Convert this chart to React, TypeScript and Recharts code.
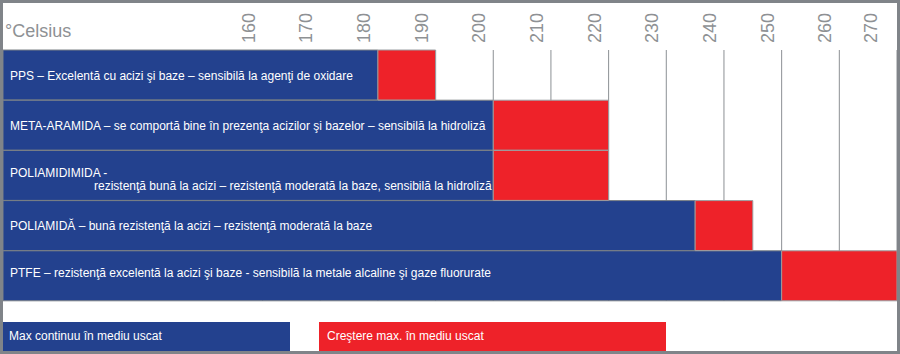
import React from 'react';
import { BarChart, Bar, XAxis, YAxis, CartesianGrid, LabelList, Legend } from 'recharts';

const materials = ['PPS', 'META-ARAMIDA', 'POLIAMIDIMIDA', 'POLIAMIDĂ', 'PTFE'];
const descriptions = [
  'PPS – Excelentă cu acizi şi baze – sensibilă la agenţi de oxidare',
  'META-ARAMIDA – se comportă bine în prezenţa acizilor şi bazelor – sensibilă la hidroliză',
  'POLIAMIDIMIDA -\nrezistenţă bună la acizi – rezistenţă moderată la baze, sensibilă la hidroliză',
  'POLIAMIDĂ – bună rezistenţă la acizi – rezistenţă moderată la baze',
  'PTFE – rezistenţă excelentă la acizi şi baze - sensibilă la metale alcaline şi gaze fluorurate',
];
const maxContinuous = [180, 200, 200, 235, 250];
const maxIncrease = [190, 220, 220, 245, 270];
const tickValues = [160, 170, 180, 190, 200, 210, 220, 230, 240, 250, 260, 270];
const axisUnit = '°Celsius';
const seriesNames = ['Max continuu în mediu uscat', 'Creştere max. în mediu uscat'];

const BLUE = '#23418e';
const RED = '#ee2229';
const FONT = '"Liberation Sans", Arial, sans-serif';
const labelNudge: Record<string, number> = { PTFE: -3 };

const data = materials.map((name, i) => ({
  name,
  desc: descriptions[i],
  cont: maxContinuous[i],
  inc: maxIncrease[i] - maxContinuous[i],
}));

const TickLabel = (props: any) => {
  const { x, payload } = props;
  const bx = x - 8;
  const by = 40;
  return (
    <text
      x={bx}
      y={by}
      transform={`rotate(-90 ${bx} ${by})`}
      textAnchor="start"
      fontSize={18}
      fill="#8e9194"
      fontFamily={FONT}
    >
      {payload.value}
    </text>
  );
};

const UnitLabel = () => (
  <text x={2} y={34} fontSize={18} fill="#8e9194" fontFamily={FONT}>
    {axisUnit}
  </text>
);

const BarText = (props: any) => {
  const { y, height, value } = props;
  const text = String(value);
  const lines = text.split('\n');
  const key = text.split(' ')[0];
  const nudge = labelNudge[key] || 0;
  const cy = y + height / 2 + nudge;
  if (lines.length === 1) {
    return (
      <text x={7} y={cy + 4.5} fontSize={12} fill="#ffffff" fontFamily={FONT}>
        {lines[0]}
      </text>
    );
  }
  return (
    <text fontSize={12} fill="#ffffff" fontFamily={FONT}>
      <tspan x={7} y={cy + 1.5}>{lines[0]}</tspan>
      <tspan x={91} y={cy + 15}>{lines[1]}</tspan>
    </text>
  );
};

const LegendContent = (props: any) => {
  const { payload } = props;
  const items = payload || [];
  const byKey: Record<string, any> = {};
  items.forEach((p: any) => { byKey[p.dataKey] = p; });
  const boxStyle = (left: number, width: number, color: string, pad: number): React.CSSProperties => ({
    position: 'absolute',
    left,
    top: 0,
    width,
    height: 29,
    background: color,
    color: '#fff',
    fontFamily: FONT,
    fontSize: 12,
    lineHeight: '29px',
    paddingLeft: pad,
    boxSizing: 'border-box',
    whiteSpace: 'nowrap',
  });
  return (
    <div style={{ position: 'relative', width: 894, height: 29 }}>
      <div style={boxStyle(0, 287, BLUE, 6)}>{byKey.cont ? byKey.cont.value : seriesNames[0]}</div>
      <div style={boxStyle(316, 347, RED, 8)}>{byKey.inc ? byKey.inc.value : seriesNames[1]}</div>
    </div>
  );
};

export default function App() {
  return (
    <div style={{ position: 'absolute', left: 0, top: 0, width: 900, height: 354, background: '#808489' }}>
      <div style={{ position: 'absolute', left: 3, top: 3, width: 894, height: 348, background: '#ffffff' }}>
        <BarChart
          width={894}
          height={348}
          data={data}
          layout="vertical"
          margin={{ top: 0, right: 0, bottom: 21, left: 0 }}
          barCategoryGap={0}
        >
          <CartesianGrid horizontal={false} vertical={true} stroke="#8c9094" strokeWidth={1} />
          <XAxis
            type="number"
            orientation="top"
            domain={[115, 270]}
            ticks={tickValues}
            allowDataOverflow
            axisLine={false}
            tickLine={false}
            tickSize={0}
            tickMargin={0}
            height={47}
            tick={<TickLabel />}
            label={<UnitLabel />}
          />
          <YAxis type="category" dataKey="name" hide />
          <Legend
            verticalAlign="bottom"
            align="left"
            height={29}
            wrapperStyle={{ left: 0, bottom: 0, width: 894, height: 29 }}
            content={<LegendContent />}
          />
          <Bar dataKey="cont" name={seriesNames[0]} stackId="a" fill={BLUE} stroke="#7b8085" strokeWidth={1} isAnimationActive={false}>
            <LabelList dataKey="desc" content={<BarText />} />
          </Bar>
          <Bar dataKey="inc" name={seriesNames[1]} stackId="a" fill={RED} stroke="#9a9ea2" strokeWidth={1} isAnimationActive={false} />
        </BarChart>
      </div>
    </div>
  );
}
